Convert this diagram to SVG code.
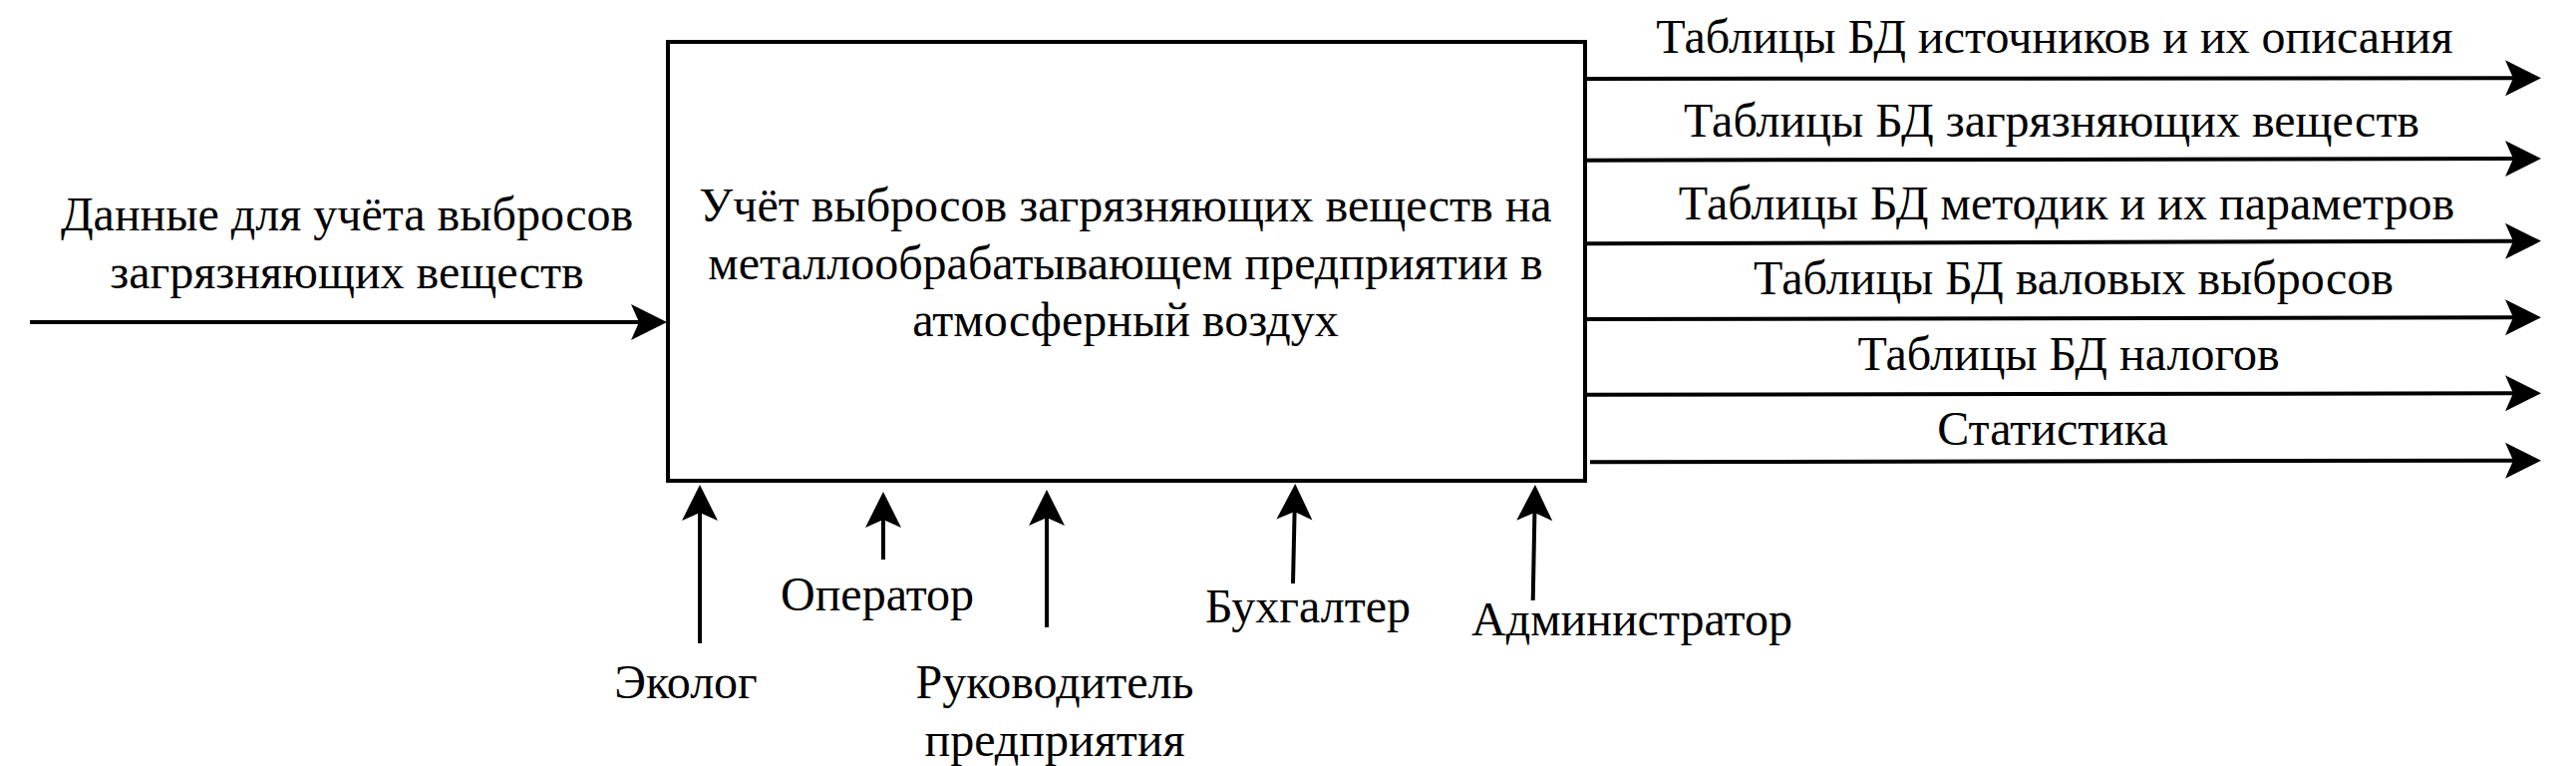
<svg xmlns="http://www.w3.org/2000/svg" width="2584" height="768" viewBox="0 0 2584 768">
<style>
text{font-family:"Liberation Serif","Times New Roman",serif;font-size:48px;fill:#000;text-anchor:middle}
.box{fill:#fff;stroke:#000;stroke-width:4}
.c{fill:none;stroke:#000;stroke-width:4;marker-end:url(#ah)}
</style>
<defs>
<marker id="ah" markerUnits="userSpaceOnUse" viewBox="-10 -20 40 40" markerWidth="40" markerHeight="40" refX="0" refY="0" orient="auto">
<path d="M28,0 L-8,-18 L0,0 L-8,18 Z" fill="#000"/>
</marker>
</defs>
<rect width="2584" height="768" fill="#fff"/>
<g id="process">
<rect class="box" x="670" y="42" width="920" height="440"/>
<text x="1129" y="222">Учёт выбросов загрязняющих веществ на</text>
<text x="1129" y="280">металлообрабатывающем предприятии в</text>
<text x="1129" y="337">атмосферный воздух</text>
</g>
<g id="connectors">
<line class="c" x1="30" y1="323" x2="641" y2="323"/>
<line class="c" x1="1592" y1="79" x2="2521" y2="78.3"/>
<line class="c" x1="1592" y1="160.7" x2="2521" y2="159"/>
<line class="c" x1="1592" y1="244.3" x2="2521" y2="241.7"/>
<line class="c" x1="1592" y1="320" x2="2521" y2="318.3"/>
<line class="c" x1="1592" y1="395.7" x2="2521" y2="394.3"/>
<line class="c" x1="1595" y1="463.3" x2="2521" y2="461.7"/>
<line class="c" x1="702" y1="645" x2="702" y2="514"/>
<line class="c" x1="886" y1="561" x2="886" y2="521"/>
<line class="c" x1="1050" y1="629" x2="1050" y2="519"/>
<line class="c" x1="1297" y1="585" x2="1298.6" y2="513"/>
<line class="c" x1="1537.7" y1="602" x2="1539.4" y2="514"/>
</g>
<g id="input-label">
<text x="348" y="231">Данные для учёта выбросов</text>
<text x="348" y="289">загрязняющих веществ</text>
</g>
<g id="output-labels">
<text x="2061" y="52.5">Таблицы БД источников и их описания</text>
<text x="2058" y="137">Таблицы БД загрязняющих веществ</text>
<text x="2073" y="219.5">Таблицы БД методик и их параметров</text>
<text x="2080" y="295">Таблицы БД валовых выбросов</text>
<text x="2075" y="371">Таблицы БД налогов</text>
<text x="2059" y="446">Статистика</text>
</g>
<g id="mechanism-labels">
<text x="688" y="700">Эколог</text>
<text x="880" y="612">Оператор</text>
<text x="1058" y="700">Руководитель</text>
<text x="1058" y="758">предприятия</text>
<text x="1312" y="624">Бухгалтер</text>
<text x="1637" y="637">Администратор</text>
</g>
</svg>
